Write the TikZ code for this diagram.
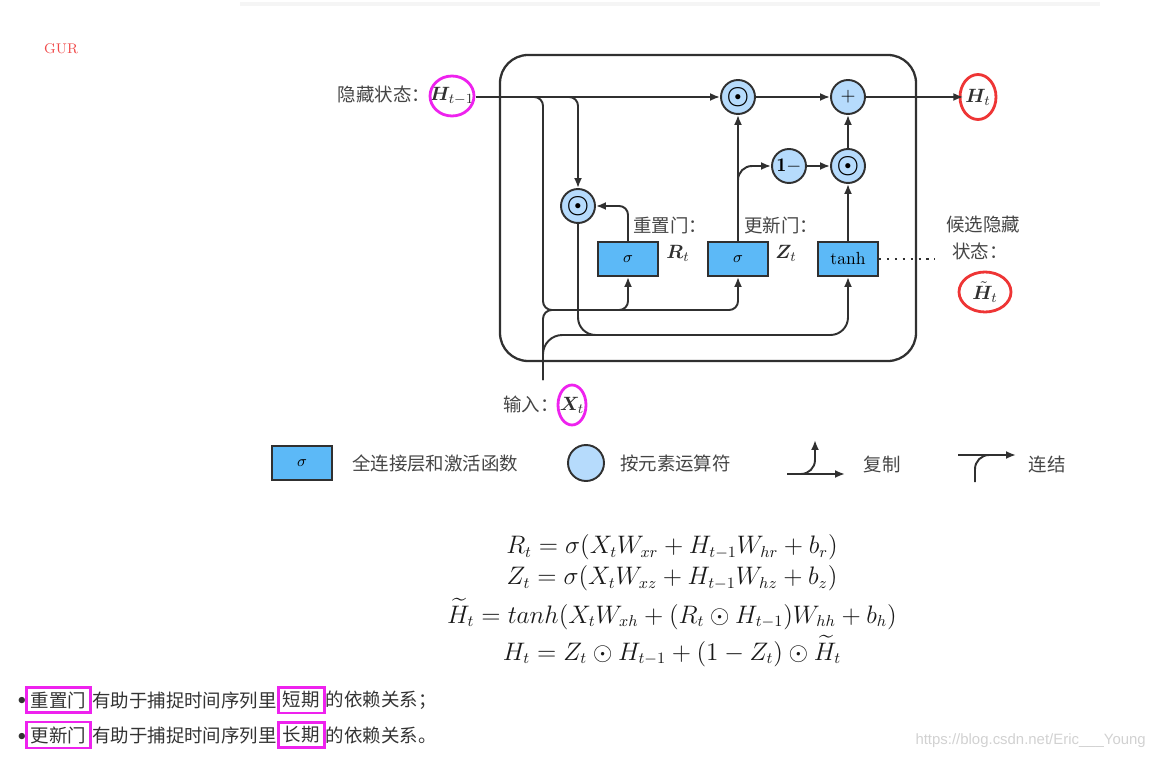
\documentclass[tikz,border=0pt]{standalone}
\usepackage{fontspec}
\usepackage{amsmath,bm}
\newfontfamily\cjk{Noto Sans CJK SC}
\newfontfamily\wmfont{Liberation Sans}
\usepackage{xcolor}
\definecolor{gatefill}{HTML}{5CB9F7}
\definecolor{opfill}{HTML}{B6DBFC}
\definecolor{inkgray}{HTML}{303030}
\definecolor{labelgray}{HTML}{454545}
\definecolor{textgray}{HTML}{333333}
\definecolor{markpink}{HTML}{EE22EE}
\definecolor{markred}{HTML}{EE3535}
\usepackage{tikz}
\usetikzlibrary{positioning,arrows.meta}

\begin{document}
\begin{tikzpicture}[x=0.02cm, y=-0.02cm,
    wire/.style={inkgray, line width=1.1pt, rounded corners=5pt},
    flow/.style={wire, -{Latex[length=2mm,width=1.6mm]}},
    gate/.style={draw=inkgray, line width=1.1pt, fill=gatefill, minimum width=1.2cm,
                 minimum height=0.68cm, inner sep=0pt, font=\fontsize{9}{10}\selectfont},
    op/.style={circle, draw=inkgray, line width=1.1pt, fill=opfill, minimum size=0.68cm,
               inner sep=0pt, font=\fontsize{11}{12}\selectfont},
    cn/.style={font=\cjk\fontsize{10.5}{12}\selectfont, text=labelgray, inner sep=1pt},
    var/.style={font=\fontsize{11}{13}\selectfont, text=inkgray, inner sep=1pt},
    eq/.style={font=\fontsize{13.4}{16}\selectfont, text=black!90, inner sep=0pt},
    bl/.style={font=\cjk\fontsize{10.5}{12}\selectfont, text=textgray, inner xsep=0pt, inner ysep=2.5pt},
    hl/.style={bl, draw=markpink, line width=1.6pt, inner xsep=2.5pt},
    ring/.style={line width=1.6pt}]
  \useasboundingbox (0,0) rectangle (1160,760);
  \draw[black!4, line width=2pt] (240,4) -- (1100,4);
  \node[font=\fontsize{8}{9}\selectfont, text=markred!90, anchor=west] (gur) at (38,49) {GUR};

  % cell
  \draw[inkgray, line width=1.3pt, rounded corners=16pt] (500,55) rectangle (916,361);

  \node[gate] (rg) at (628,259) {$\sigma$};
  \node[gate] (zg) at (738,259) {$\sigma$};
  \node[gate, font=\fontsize{10}{11}\selectfont] (tg) at (848,259) {tanh};
  \node[op, font=\fontsize{14}{14}\selectfont] (odr) at (578,206) {$\boldsymbol{\odot}$};
  \node[op, font=\fontsize{14}{14}\selectfont] (od1) at (738,97) {$\boldsymbol{\odot}$};
  \node[op] (plus) at (848,97) {$+$};
  \node[op] (om) at (789,166) {$\mathbf{1}{-}$};
  \node[op, font=\fontsize{14}{14}\selectfont] (od2) at (848,166) {$\boldsymbol{\odot}$};

  % labels
  \node[var] (hprev) at (452,96) {$\bm{H}_{t-1}$};
  \node[cn] (hlab) at (384,94) {隐藏状态：};
  \node[var] (ht) at (978,97) {$\bm{H}_t$};
  \node[var] (xt) at (572,405) {$\bm{X}_t$};
  \node[cn] (xlab) at (531,404) {输入：};
  \node[cn] (rlab) at (670,225) {重置门：};
  \node[cn] (zlab) at (781,225) {更新门：};
  \node[var] (rt) at (678,253) {$\bm{R}_t$};
  \node[var] (zt) at (786,253) {$\bm{Z}_t$};
  \node[cn] (cand1) at (983,225) {候选隐藏};
  \node[cn] (cand2) at (980,251) {状态：};
  \node[var] (htil) at (985,292) {$\tilde{\bm{H}}_t$};

  \draw[markpink, ring] (hprev.center) ellipse [x radius=0.44cm, y radius=0.4cm];
  \draw[markred, ring] (ht.center) ellipse [x radius=0.36cm, y radius=0.45cm];
  \draw[markpink, ring] (xt.center) ellipse [x radius=0.28cm, y radius=0.4cm];
  \draw[markred, ring] (htil.center) ellipse [x radius=0.52cm, y radius=0.4cm];

  % connectors
  \coordinate (hin) at (476,97);
  \coordinate (sp1) at (528,97);
  \coordinate (sp2) at (562,97);
  \coordinate (sp3) at (738,192);
  \coordinate (jr) at (543,310);
  \coordinate (jz) at (612,310);
  \coordinate (jt) at (700,335);
  \coordinate (xin) at (543,380);
  \coordinate (dotend) at (935,259);
  \draw[flow] (hin) -- (od1);
  \draw[flow] (sp1) -| (jr) -| (rg.south);
  \draw[flow] (jz) -| (zg.south);
  \draw[wire] (xin) |- (565,310);
  \draw[wire, rounded corners=11pt] (xin) |- (jt);
  \draw[flow] (sp2) -| (odr.north);
  \draw[flow] (rg.north) |- (odr.east);
  \draw[flow, rounded corners=10pt] (odr.south) |- (jt) -| (tg.south);
  \draw[flow] (zg.north) -- (od1.south);
  \draw[flow, rounded corners=8pt] (sp3) |- (om.west);
  \draw[flow] (om) -- (od2);
  \draw[flow] (tg) -- (od2);
  \draw[flow] (od2) -- (plus);
  \draw[flow] (od1) -- (plus);
  \draw[flow] (plus) -- (ht);
  \draw[inkgray, line width=1.1pt, dash pattern=on 1.2pt off 3.3pt] (tg.east) -- (dotend);

  % legend
  \node[gate] (lgate) at (302,463) {$\sigma$};
  \node[cn, anchor=west] (lgatet) at (350,463) {全连接层和激活函数};
  \node[op, minimum size=0.72cm] (lop) at (586,463) {};
  \node[cn, anchor=west] (lopt) at (618,463) {按元素运算符};
  \coordinate (cpa) at (787,474);
  \coordinate (cpb) at (845,474);
  \coordinate (cpc) at (797,474);
  \coordinate (cpu) at (815,440);
  \draw[flow] (cpa) -- (cpb);
  \draw[flow, rounded corners=8pt] (cpc) -| (cpu);
  \node[cn] (cpt) at (882,464) {复制};
  \coordinate (cta) at (958,455);
  \coordinate (ctb) at (1016,455);
  \coordinate (ctc) at (975,482);
  \coordinate (ctd) at (992,455);
  \draw[flow] (cta) -- (ctb);
  \draw[wire, rounded corners=8pt] (ctc) |- (ctd);
  \node[cn] (ctt) at (1047,464) {连结};

  % equations
  \node[eq] (e1) at (672,547) {$R_t = \sigma(X_tW_{xr} + H_{t-1}W_{hr} + b_r)$};
  \node[eq] (e2) at (672,578) {$Z_t = \sigma(X_tW_{xz} + H_{t-1}W_{hz} + b_z)$};
  \node[eq] (e3) at (672,614) {$\widetilde{H}_t = tanh(X_tW_{xh} + (R_t \odot H_{t-1})W_{hh} + b_h)$};
  \node[eq] (e4) at (672,651) {$H_t = Z_t \odot H_{t-1} + (1 - Z_t) \odot \widetilde{H}_t$};

  % notes
  \node[text=textgray, font=\fontsize{9}{10}\selectfont] (d1) at (22,701) {$\bullet$};
  \node[hl, anchor=west] (n1a) at (25,700) {重置门};
  \node[bl, right=0pt of n1a] (n1b) {有助于捕捉时间序列里};
  \node[hl, right=0pt of n1b] (n1c) {短期};
  \node[bl, right=0pt of n1c] (n1d) {的依赖关系；};
  \node[text=textgray, font=\fontsize{9}{10}\selectfont] (d2) at (22,737) {$\bullet$};
  \node[hl, anchor=west] (n2a) at (25,735) {更新门};
  \node[bl, right=0pt of n2a] (n2b) {有助于捕捉时间序列里};
  \node[hl, right=0pt of n2b] (n2c) {长期};
  \node[bl, right=0pt of n2c] (n2d) {的依赖关系。};

  \node[font=\wmfont\fontsize{8.5}{10}\selectfont, text=black!18, anchor=east] (wm) at (1152,741) {https://blog.csdn.net/Eric\_\_\_Young};
\end{tikzpicture}
\end{document}
